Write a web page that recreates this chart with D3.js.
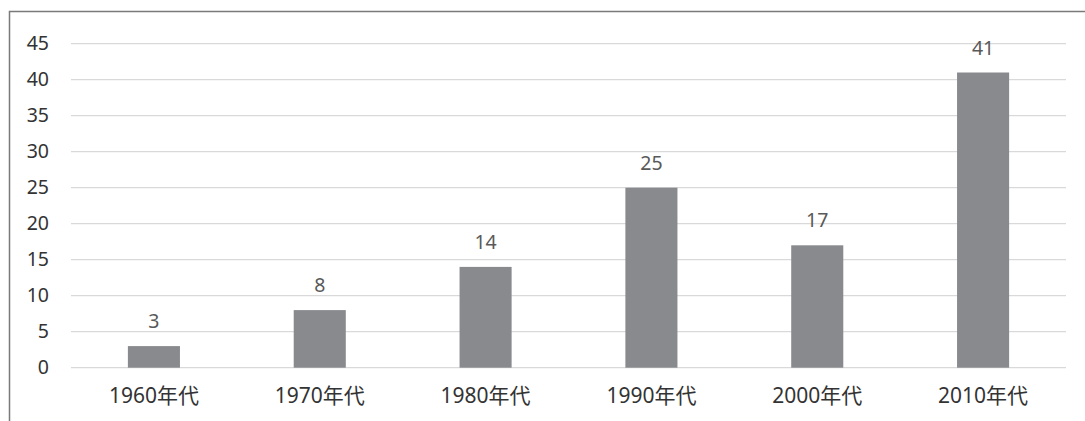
<!DOCTYPE html>
<html>
<head>
<meta charset="utf-8">
<script src="https://cdn.jsdelivr.net/npm/d3@7"></script>
<style>
  html, body { margin: 0; padding: 0; background: #fff; overflow: hidden; }
  svg { display: block; }
</style>
</head>
<body>
<script>
// Number of items per decade
const decades = ["1960年代", "1970年代", "1980年代", "1990年代", "2000年代", "2010年代"];
const counts = [3, 8, 14, 25, 17, 41];
const yTicks = [0, 5, 10, 15, 20, 25, 30, 35, 40, 45];

const W = 1085, H = 421;
const margin = { left: 71, right: 19, top: 43.7, bottom: 53.3 };
const fontStack = "'Noto Sans', 'Noto Sans CJK JP', sans-serif";

const svg = d3.select("body").append("svg")
  .attr("width", W).attr("height", H);

// Chart frame (extends past the window edge on right and bottom)
svg.append("path")
  .attr("d", `M9.5,${H + 5} L9.5,11.5 L${W + 5},11.5`)
  .attr("fill", "none")
  .attr("stroke", "#7a7a7a")
  .attr("stroke-width", 1.5);

const x = d3.scaleBand()
  .domain(decades)
  .range([margin.left, W - margin.right])
  .paddingInner(0.686)
  .paddingOuter(0.343);

const y = d3.scaleLinear()
  .domain([0, 45])
  .range([H - margin.bottom, margin.top]);

// Horizontal gridlines
svg.append("g")
  .selectAll("line")
  .data(yTicks)
  .join("line")
  .attr("x1", margin.left)
  .attr("x2", W - margin.right)
  .attr("y1", d => y(d))
  .attr("y2", d => y(d))
  .attr("stroke", "#d9d9d9")
  .attr("stroke-width", 1.3);

// Y axis labels
const yAxis = d3.axisLeft(y).tickValues(yTicks).tickSize(0).tickPadding(22);
const gy = svg.append("g")
  .attr("transform", `translate(${margin.left},0)`)
  .call(yAxis);
gy.select(".domain").remove();
gy.selectAll("text")
  .attr("font-family", fontStack)
  .attr("font-size", 19.5)
  .attr("fill", "#333");

// Bars
svg.append("g")
  .selectAll("rect")
  .data(decades)
  .join("rect")
  .attr("x", d => x(d))
  .attr("width", x.bandwidth())
  .attr("y", (d, i) => y(counts[i]))
  .attr("height", (d, i) => y(0) - y(counts[i]))
  .attr("fill", "#898a8e");

// Value labels above bars
svg.append("g")
  .selectAll("text")
  .data(decades)
  .join("text")
  .attr("x", d => x(d) + x.bandwidth() / 2)
  .attr("y", (d, i) => y(counts[i]) - 18)
  .attr("text-anchor", "middle")
  .attr("font-family", fontStack)
  .attr("font-size", 19.5)
  .attr("fill", "#595959")
  .text((d, i) => counts[i]);

// X axis category labels
const xAxis = d3.axisBottom(x).tickSize(0).tickPadding(20);
const gx = svg.append("g")
  .attr("transform", `translate(0,${y(0)})`)
  .call(xAxis);
gx.select(".domain").remove();
gx.selectAll("text")
  .attr("font-family", fontStack)
  .attr("font-size", 21)
  .attr("fill", "#333");
</script>
</body>
</html>
